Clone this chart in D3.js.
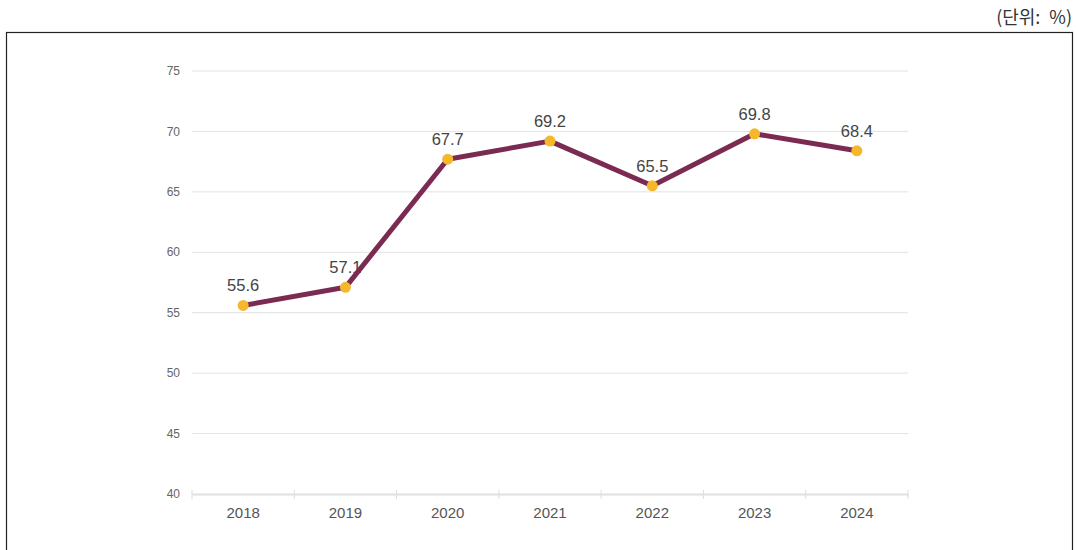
<!DOCTYPE html>
<html>
<head>
<meta charset="utf-8">
<script src="https://cdn.jsdelivr.net/npm/d3@7"></script>
<style>
body { margin: 0; background: #fff; }
svg { display: block; font-family: "Liberation Sans", Arial, sans-serif; }
</style>
</head>
<body>
<svg id="chart" width="1077" height="550"></svg>
<script>
// chart data
const years = ['2018', '2019', '2020', '2021', '2022', '2023', '2024'];
const rates = [55.6, 57.1, 67.7, 69.2, 65.5, 69.8, 68.4];
const yTicks = [40, 45, 50, 55, 60, 65, 70, 75];
const unitLabel = '(단위:\u2002%)';

const svg = d3.select('#chart');
const margin = { left: 192, right: 169, top: 71, bottom: 56 };
const width = 1077, height = 550;

// frame
svg.append('rect')
	.attr('x', 6.5).attr('y', 32.5)
	.attr('width', 1066).attr('height', 530)
	.attr('fill', 'none').attr('stroke', '#222').attr('stroke-width', 1.2);

svg.append('text')
	.attr('x', 1072).attr('y', 24)
	.attr('text-anchor', 'end')
	.attr('font-family', '"Noto Sans CJK KR", sans-serif')
	.attr('font-size', 18).attr('fill', '#333')
	.text(unitLabel);

const x = d3.scaleBand().domain(years).range([margin.left, width - margin.right]);
const y = d3.scaleLinear().domain([40, 75]).range([height - margin.bottom, margin.top]);

// grid lines
svg.append('g').selectAll('line')
	.data(yTicks.slice(1))
	.enter().append('line')
	.attr('x1', margin.left).attr('x2', width - margin.right)
	.attr('y1', d => y(d)).attr('y2', d => y(d))
	.attr('stroke', '#e3e3e3').attr('stroke-width', 1);

// y labels
svg.append('g').selectAll('text')
	.data(yTicks)
	.enter().append('text')
	.attr('x', margin.left - 12).attr('y', d => y(d))
	.attr('dy', '0.35em')
	.attr('text-anchor', 'end')
	.attr('font-size', 12).attr('fill', '#666')
	.text(d => d);

// x axis
const xAxis = svg.append('g')
	.attr('transform', 'translate(0,' + y(40) + ')')
	.call(d3.axisBottom(x).tickSize(0).tickPadding(13));
xAxis.select('.domain').attr('stroke', '#e0e0e0').attr('stroke-width', 2);
xAxis.selectAll('text').attr('font-size', 15).attr('fill', '#555')
	.attr('font-family', '"Liberation Sans", Arial, sans-serif');

// band separators
svg.append('g').selectAll('line')
	.data(years.map(d => x(d)).concat([width - margin.right]))
	.enter().append('line')
	.attr('x1', d => d).attr('x2', d => d)
	.attr('y1', y(40) - 4).attr('y2', y(40) + 5)
	.attr('stroke', '#ddd').attr('stroke-width', 1);

const cx = d => x(d) + x.bandwidth() / 2;

// value labels (under the line)
svg.append('g').selectAll('text')
	.data(years)
	.enter().append('text')
	.attr('x', d => cx(d))
	.attr('y', (d, i) => y(rates[i]) - 14)
	.attr('text-anchor', 'middle')
	.attr('font-size', 16.5).attr('fill', '#444')
	.text((d, i) => rates[i].toFixed(1));

const line = d3.line()
	.x((d, i) => cx(years[i]))
	.y(d => y(d));

svg.append('path')
	.datum(rates)
	.attr('d', line)
	.attr('fill', 'none')
	.attr('stroke', '#7b2a52')
	.attr('stroke-width', 5)
	.attr('stroke-linejoin', 'round');

svg.append('g').selectAll('circle')
	.data(rates)
	.enter().append('circle')
	.attr('cx', (d, i) => cx(years[i]))
	.attr('cy', d => y(d))
	.attr('r', 5.5)
	.attr('fill', '#f5b82a');
</script>
</body>
</html>
